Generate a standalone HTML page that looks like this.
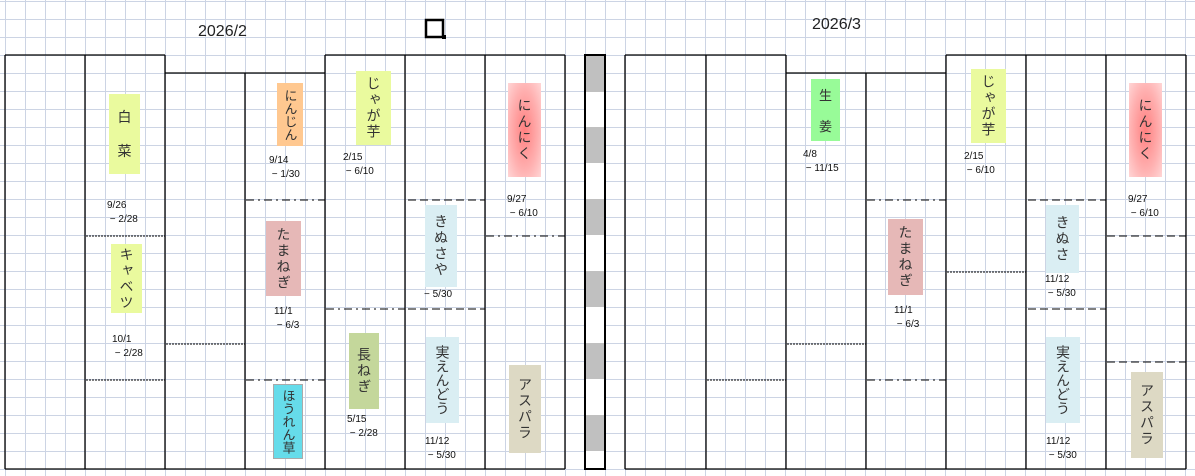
<!DOCTYPE html>
<html><head><meta charset="utf-8"><style>
html,body{margin:0;padding:0}
body{width:1195px;height:476px;position:relative;overflow:hidden;background:#fff;
background-image:repeating-linear-gradient(90deg,#ccd4e4 0 1px,transparent 1px 20px),repeating-linear-gradient(180deg,#ccd4e4 0 1px,transparent 1px 18px);
background-position:5px 0,0 1px;font-family:"Liberation Sans","Noto Sans CJK JP",sans-serif;}
.b{position:absolute;display:flex;align-items:center;justify-content:center;color:#333;font-size:14px;}
.v{writing-mode:vertical-rl;letter-spacing:2px;line-height:1}
.d{position:absolute;font-size:10px;line-height:14px;color:#111;white-space:pre}
.t{position:absolute;font-size:16px;color:#222}
svg{position:absolute;left:0;top:0}
</style></head><body>
<svg width="1195" height="476">
<g stroke="#000" stroke-width="1.3" fill="none">
<path d="M5 55H165M165 73H325M325 55H565M5 469H565M5 55V469M85 55V469M165 55V469M245 73V469M325 55V469M405 55V469M485 55V469M565 55V469"/>
<path d="M625 55H786M786 73H946M946 55H1186M625 469H1186M625 55V469M706 55V469M786 55V469M866 73V469M946 55V469M1026 55V469M1106 55V469M1186 55V469"/>
</g>
<g stroke="#000" stroke-width="1" fill="none">
<g stroke-dasharray="2,1"><path d="M86 236H165M86 380H165M166 344H245M707 380H786M787 344H866M947 272H1026"/></g>
<g stroke-dasharray="8,4,2,4"><path d="M246 200H325M246 380H325M326 309H405M486 236H565M867 200H946M867 380H946"/></g>
<g stroke-dasharray="8,4"><path d="M408 200H485M408 309H485M1028 200H1106M1028 309H1106M1107 236H1186M1107 362H1186"/></g>
</g>
<rect x="585" y="55" width="20" height="414" fill="#fff" stroke="#000" stroke-width="2"/>
<g fill="#c0c0c0"><rect x="586" y="56" width="18" height="36"/><rect x="586" y="127" width="18" height="36"/><rect x="586" y="199" width="18" height="36"/><rect x="586" y="271" width="18" height="36"/><rect x="586" y="343" width="18" height="36"/><rect x="586" y="415" width="18" height="36"/></g>
<rect x="426" y="20" width="17" height="17" fill="#fff" stroke="#000" stroke-width="2.5"/>
<rect x="442" y="35" width="4" height="4" fill="#000"/>
</svg>
<div class="t" style="left:198px;top:23px">2026/2</div>
<div class="t" style="left:812px;top:16px">2026/3</div>

<div class="b" style="left:109px;top:94px;width:31px;height:80px;background:#eafa9e;flex-direction:column"><span>白</span><span style="margin-top:14px">菜</span></div>
<div class="b v" style="left:111px;top:244px;width:31px;height:69px;background:#eafa9e">キャベツ</div>
<div class="b v" style="left:277px;top:83px;width:26px;height:63px;background:#ffc890;letter-spacing:0;font-size:13px">にんじん</div>
<div class="b v" style="left:266px;top:221px;width:35px;height:75px;background:#e6b8b7">たまねぎ</div>
<div class="b v" style="left:273px;top:384px;width:30px;height:75px;background:#66dcea;border:1px solid #aaa;box-sizing:border-box;font-size:13px;letter-spacing:0">ほうれん草</div>
<div class="b v" style="left:356px;top:71px;width:35px;height:74px;background:#eafa9e">じゃが芋</div>
<div class="b v" style="left:349px;top:333px;width:30px;height:76px;background:#c4d79b">長ねぎ</div>
<div class="b v" style="left:425px;top:205px;width:32px;height:82px;background:#daeef3">きぬさや</div>
<div class="b v" style="left:426px;top:337px;width:33px;height:86px;background:#daeef3;letter-spacing:0">実えんどう</div>
<div class="b v" style="left:508px;top:83px;width:33px;height:94px;background:radial-gradient(ellipse at center,#ff8080 0%,#ffb0b0 60%,#ffd6d6 100%)">にんにく</div>
<div class="b v" style="left:509px;top:365px;width:32px;height:88px;background:#ddd9c4">アスパラ</div>

<div class="d" style="left:107px;top:199px">9/26
 − 2/28</div>
<div class="d" style="left:112px;top:333px">10/1
 − 2/28</div>
<div class="d" style="left:269px;top:154px">9/14
 − 1/30</div>
<div class="d" style="left:274px;top:305px">11/1
 − 6/3</div>
<div class="d" style="left:343px;top:151px">2/15
 − 6/10</div>
<div class="d" style="left:347px;top:413px">5/15
 − 2/28</div>
<div class="d" style="left:424px;top:288px">− 5/30</div>
<div class="d" style="left:425px;top:435px">11/12
 − 5/30</div>
<div class="d" style="left:507px;top:193px">9/27
 − 6/10</div>

<div class="b" style="left:811px;top:79px;width:29px;height:62px;background:#98fb98;flex-direction:column;font-size:13px"><span>生</span><span style="margin-top:12px">姜</span></div>
<div class="b v" style="left:888px;top:219px;width:35px;height:76px;background:#e6b8b7">たまねぎ</div>
<div class="b v" style="left:971px;top:69px;width:35px;height:74px;background:#eafa9e">じゃが芋</div>
<div class="b v" style="left:1046px;top:205px;width:33px;height:68px;background:#daeef3">きぬさ</div>
<div class="b v" style="left:1046px;top:337px;width:34px;height:86px;background:#daeef3;letter-spacing:0">実えんどう</div>
<div class="b v" style="left:1129px;top:83px;width:33px;height:94px;background:radial-gradient(ellipse at center,#ff8080 0%,#ffb0b0 60%,#ffd6d6 100%)">にんにく</div>
<div class="b v" style="left:1131px;top:372px;width:32px;height:86px;background:#ddd9c4">アスパラ</div>

<div class="d" style="left:803px;top:148px">4/8
 − 11/15</div>
<div class="d" style="left:894px;top:304px">11/1
 − 6/3</div>
<div class="d" style="left:964px;top:150px">2/15
 − 6/10</div>
<div class="d" style="left:1045px;top:273px">11/12
 − 5/30</div>
<div class="d" style="left:1046px;top:435px">11/12
 − 5/30</div>
<div class="d" style="left:1128px;top:193px">9/27
 − 6/10</div>
</body></html>
